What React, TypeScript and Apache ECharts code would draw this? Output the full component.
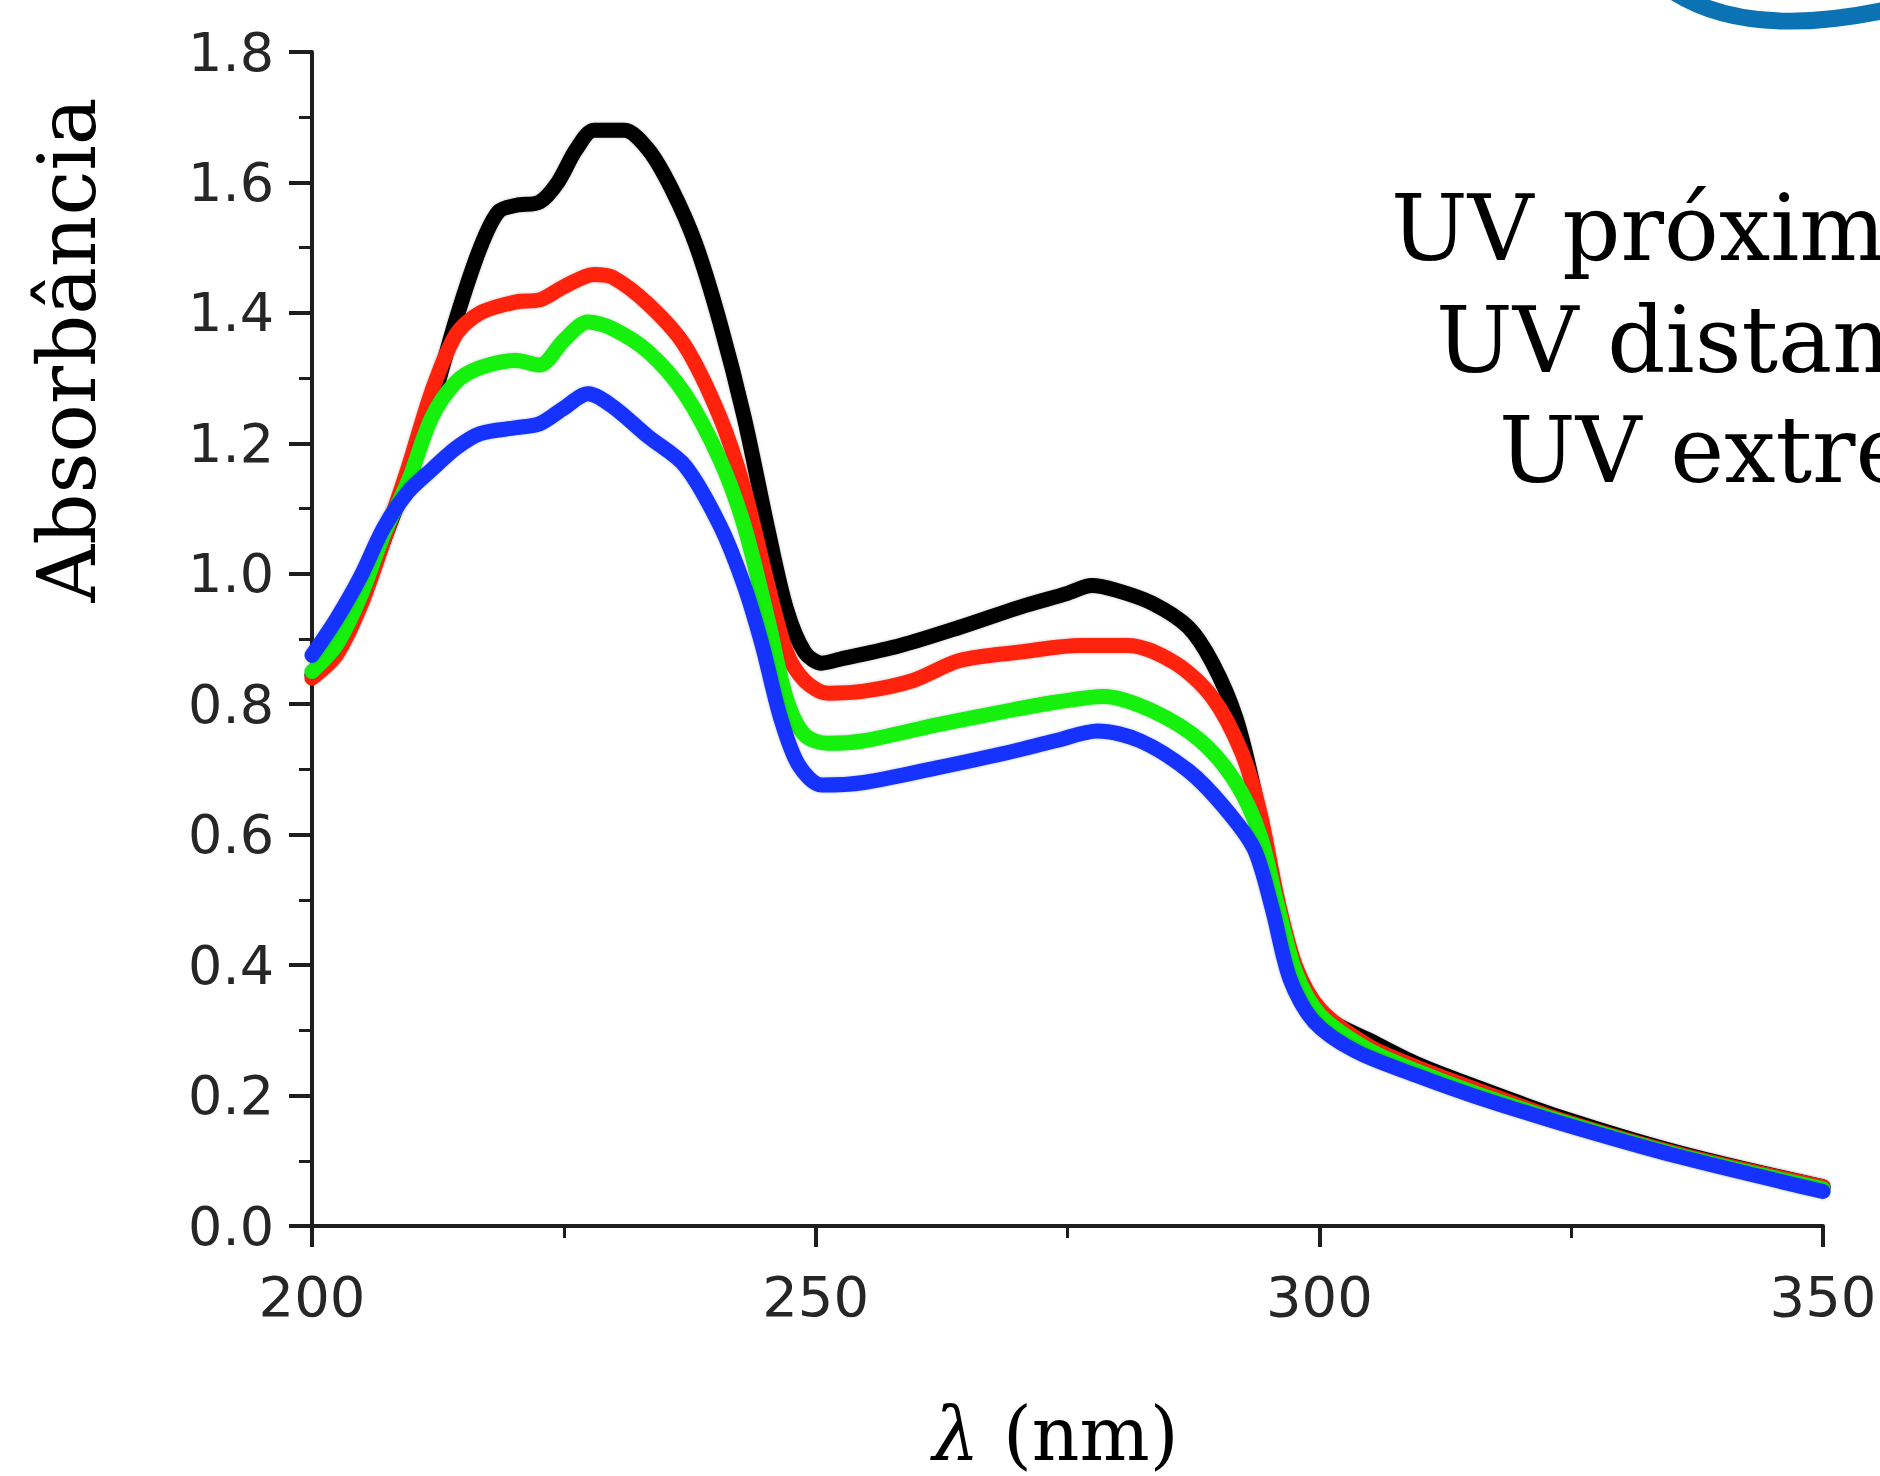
import React, { useEffect, useRef } from "react";
import * as echarts from "echarts";

// Wavelength (nm) and absorbance readings for each spectrum
const blackNm = [200, 202.4, 204.8, 207.1, 209.5, 211.9, 214.3, 216.7, 218.5, 220.3, 222.6, 224.4, 226.2, 228, 231, 233.4, 235.7, 238.1, 240.5, 242.9, 245.3, 247.1, 248.9, 250.6, 252.4, 258.4, 264.3, 270.3, 275, 277.4, 279.8, 283.4, 287, 289.4, 291.7, 293.5, 295.3, 297.1, 298.9, 301.3, 304.8, 309.6, 315.6, 323.9, 335.8, 350];
const blackAbs = [0.845, 0.88, 0.955, 1.05, 1.15, 1.26, 1.39, 1.5, 1.555, 1.565, 1.57, 1.6, 1.65, 1.68, 1.68, 1.65, 1.59, 1.505, 1.385, 1.24, 1.065, 0.946, 0.88, 0.863, 0.869, 0.89, 0.918, 0.949, 0.97, 0.982, 0.975, 0.955, 0.918, 0.863, 0.78, 0.67, 0.524, 0.414, 0.35, 0.313, 0.286, 0.249, 0.213, 0.167, 0.112, 0.06];

const redNm = [200, 202.4, 204.8, 207.1, 209.5, 211.9, 214.3, 216.7, 220.3, 222.6, 225, 228, 229.8, 233.4, 237, 240.5, 242.9, 245.3, 247.1, 248.9, 251.2, 254.8, 259.6, 264.3, 270.3, 276.3, 281, 285.7, 289.4, 292.3, 294.1, 295.9, 297.7, 300.1, 304.8, 309.6, 315.6, 323.9, 335.8, 350];
const redAbs = [0.84, 0.875, 0.95, 1.05, 1.16, 1.28, 1.367, 1.4, 1.417, 1.42, 1.44, 1.459, 1.455, 1.413, 1.35, 1.24, 1.13, 0.98, 0.88, 0.836, 0.817, 0.82, 0.836, 0.867, 0.88, 0.89, 0.89, 0.863, 0.81, 0.726, 0.634, 0.497, 0.396, 0.332, 0.277, 0.244, 0.209, 0.163, 0.11, 0.06];

const greenNm = [200, 202.4, 204.8, 207.1, 209.5, 211.9, 214.3, 216.7, 220.3, 222.6, 225, 227.4, 229.8, 233.4, 237, 240.5, 242.9, 245.3, 247.1, 248.9, 251.2, 254.8, 261.9, 269.1, 273.8, 278.6, 283.4, 288.2, 291.7, 294.1, 295.9, 297.7, 300.1, 304.8, 309.6, 315.6, 323.9, 335.8, 350];
const greenAbs = [0.85, 0.89, 0.965, 1.06, 1.14, 1.24, 1.294, 1.316, 1.327, 1.32, 1.358, 1.386, 1.376, 1.34, 1.276, 1.175, 1.074, 0.927, 0.808, 0.753, 0.74, 0.744, 0.768, 0.79, 0.803, 0.812, 0.79, 0.744, 0.68, 0.6, 0.488, 0.387, 0.323, 0.271, 0.238, 0.203, 0.161, 0.108, 0.057];

const blueNm = [200, 202.4, 204.8, 207.1, 209.5, 211.9, 214.3, 216.7, 220.3, 222.6, 225, 227.4, 229.8, 233.4, 237, 240.5, 242.9, 244.7, 246.5, 248.3, 250.6, 254.8, 261.9, 269.1, 273.8, 278, 282.2, 287, 290.5, 293.5, 295.3, 297.1, 299.5, 303.6, 309.6, 315.6, 323.9, 335.8, 350];
const blueAbs = [0.875, 0.93, 0.995, 1.07, 1.125, 1.16, 1.193, 1.215, 1.224, 1.23, 1.254, 1.276, 1.257, 1.21, 1.166, 1.074, 0.982, 0.89, 0.78, 0.707, 0.676, 0.68, 0.702, 0.726, 0.744, 0.759, 0.744, 0.698, 0.643, 0.579, 0.488, 0.378, 0.313, 0.268, 0.231, 0.198, 0.158, 0.106, 0.053];

const xMin = 200;
const xMax = 350;
const xStep = 50;
const yMin = 0;
const yMax = 1.8;
const yStep = 0.2;

const xAxisTitle = "λ (nm)";
const yAxisTitle = "Absorbância";
const sideLabels = ["UV próximo", "UV distante", "UV extremo"];

export default function App() {
  const ref = useRef<HTMLDivElement>(null);

  useEffect(() => {
    const chart = echarts.init(ref.current!, null, { renderer: "svg" });
    const pairs = (xs: number[], ys: number[]) => xs.map((x, i) => [x, ys[i]]);
    const seriesDefs = [
      { name: "preto", color: "#000000", xs: blackNm, ys: blackAbs },
      { name: "vermelho", color: "#ff2410", xs: redNm, ys: redAbs },
      { name: "verde", color: "#12f010", xs: greenNm, ys: greenAbs },
      { name: "azul", color: "#1432ff", xs: blueNm, ys: blueAbs },
    ];
    const axisColor = "#1e1e1e";
    const sideX = [1391, 1436, 1499];
    const sideY = [228, 340, 450];
    const titleParts = xAxisTitle.split(" ");

    chart.setOption({
      animation: false,
      backgroundColor: "#ffffff",
      grid: { left: 312, top: 52, right: 57, bottom: 245, containLabel: false },
      xAxis: {
        type: "value",
        min: xMin,
        max: xMax,
        interval: xStep,
        axisLine: { show: true, onZero: false, lineStyle: { color: axisColor, width: 4 } },
        axisTick: { show: true, length: 21, lineStyle: { color: axisColor, width: 4 } },
        minorTick: { show: true, splitNumber: 2, length: 12, lineStyle: { color: axisColor, width: 3 } },
        splitLine: { show: false },
        minorSplitLine: { show: false },
        axisLabel: {
          margin: 42,
          fontFamily: "DejaVu Sans",
          fontSize: 56,
          color: "#262626",
        },
        name: "{i|" + titleParts[0] + "} " + titleParts.slice(1).join(" "),
        nameLocation: "middle",
        nameGap: 171,
        nameTextStyle: {
          fontFamily: "DejaVu Serif",
          fontSize: 74,
          color: "#000000",
          padding: [0, 24, 0, 0],
          rich: {
            i: { fontFamily: "DejaVu Serif", fontStyle: "italic", fontSize: 74, color: "#000000" },
          },
        },
      },
      yAxis: {
        type: "value",
        min: yMin,
        max: yMax,
        interval: yStep,
        axisLine: { show: true, onZero: false, lineStyle: { color: axisColor, width: 4 } },
        axisTick: { show: true, length: 23, lineStyle: { color: axisColor, width: 4 } },
        minorTick: { show: true, splitNumber: 2, length: 13, lineStyle: { color: axisColor, width: 3 } },
        splitLine: { show: false },
        minorSplitLine: { show: false },
        axisLabel: {
          margin: 38,
          fontFamily: "DejaVu Sans",
          fontSize: 54,
          color: "#262626",
          formatter: (v: number) => v.toFixed(1),
        },
      },
      series: seriesDefs.map((s) => ({
        type: "line",
        name: s.name,
        data: pairs(s.xs, s.ys),
        showSymbol: false,
        symbol: "none",
        smooth: 0.3,
        lineStyle: {
          color: s.color,
          width: 15,
          cap: "round",
          join: "round",
          shadowColor: "rgba(0,0,0,0.25)",
          shadowBlur: 3,
        },
        itemStyle: { color: s.color },
      })),
      graphic: [
        {
          type: "text",
          x: 67,
          y: 350,
          rotation: Math.PI / 2,
          style: {
            text: yAxisTitle,
            fill: "#000000",
            font: '80px "DejaVu Serif"',
            align: "center",
            verticalAlign: "middle",
            textAlign: "center",
            textVerticalAlign: "middle",
          },
        },
        ...sideLabels.map((t, i) => ({
          type: "text",
          x: sideX[i],
          y: sideY[i],
          style: {
            text: t,
            fill: "#000000",
            font: '91px "DejaVu Serif"',
            align: "left",
            verticalAlign: "middle",
            textAlign: "left",
            textVerticalAlign: "middle",
          },
        })),
        {
          type: "bezierCurve",
          shape: { x1: 1668, y1: -12, cpx1: 1745, cpy1: 42, x2: 1895, y2: 8 },
          style: { stroke: "#0b72b3", lineWidth: 17, fill: "none" },
        },
      ],
    });

    return () => chart.dispose();
  }, []);

  return (
    <div
      ref={ref}
      style={{ position: "fixed", left: 0, top: 0, width: 1880, height: 1476 }}
    />
  );
}
